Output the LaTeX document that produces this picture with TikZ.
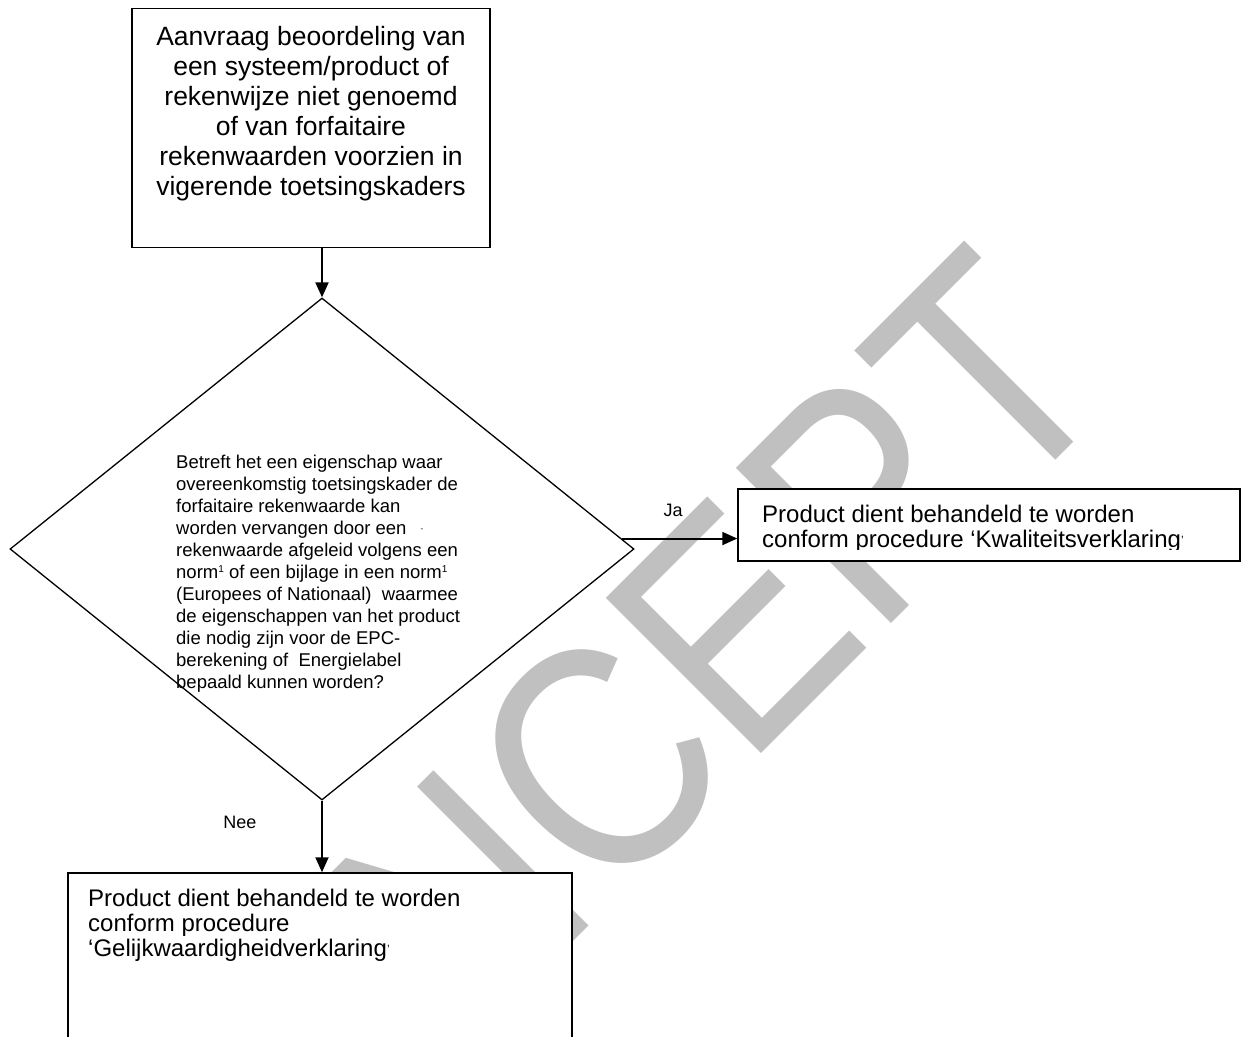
\documentclass[tikz,border=0pt]{standalone}
\usepackage{fontspec}
\setmainfont{Liberation Sans}
\usetikzlibrary{shapes.geometric,arrows.meta}
\definecolor{wmgray}{RGB}{192,192,192}
\begin{document}
\begin{tikzpicture}[x=1pt,y=-1pt,
  box/.style={draw=black,line width=1.5pt,fill=white,rectangle,inner sep=0pt},
  dec/.style={draw=black,line width=1.3pt,fill=white,diamond,inner sep=0pt},
  arr/.style={line width=2pt,-{Triangle[length=15pt,width=13pt]}},
  lab/.style={font=\fontsize{18}{20}\selectfont,inner sep=0pt},
  bigtxt/.style={font=\fontsize{26.5}{30}\selectfont,inner sep=0pt},
  midtxt/.style={font=\fontsize{24}{25}\selectfont,inner sep=0pt,align=left},
  smalltxt/.style={font=\fontsize{18.5}{22}\selectfont,inner sep=0pt,align=left},
]
\useasboundingbox (0,0) rectangle (1249,1036);
\clip (0,0) rectangle (1249,1036);
\fill[white] (0,0) rectangle (1249,1036);
% watermark
\node[rotate=45,yscale=1.16,anchor=base east,text=wmgray,font=\fontsize{275}{275}\selectfont,inner sep=0pt] (wm) at (1124,391) {CONCEPT};
% boxes
\node[box,minimum width=358pt,minimum height=239pt] (top) at (311,128) {};
\node[bigtxt,align=center,anchor=north] (toptxt) at (311,25.7) {Aanvraag beoordeling van\\een systeem/product of\\rekenwijze niet genoemd\\of van forfaitaire\\rekenwaarden voorzien in\\vigerende toetsingskaders};
\node[dec,minimum width=624pt,minimum height=502pt] (dia) at (322,549) {};
\node[smalltxt,anchor=north west] (diatxt) at (176,455) {Betreft het een eigenschap waar\\overeenkomstig toetsingskader de\\forfaitaire rekenwaarde kan\\worden vervangen door een\hspace{14pt}\raisebox{3pt}{\fontsize{8}{8}\selectfont -}\\rekenwaarde afgeleid volgens een\\norm\raisebox{6pt}{\fontsize{10}{10}\selectfont 1} of een bijlage in een norm\raisebox{6pt}{\fontsize{10}{10}\selectfont 1}\\(Europees of Nationaal)\ \ waarmee\\de eigenschappen van het product\\die nodig zijn voor de EPC-\\berekening of\ \ Energielabel\\bepaald kunnen worden?};
\node[box,minimum width=502pt,minimum height=72pt] (rbox) at (989,525) {};
\begin{scope}
\clip (739,489) rectangle (1240,549.5);
\node[midtxt,anchor=north west] (rtxt) at (762,504.5) {Product dient behandeld te worden\\conform procedure ‘Kwaliteitsverklaring\raisebox{3pt}{\fontsize{12}{12}\selectfont ’}};
\end{scope}
\node[box,minimum width=504pt,minimum height=200pt] (bbox) at (320,973) {};
\node[midtxt,anchor=north west] (btxt) at (88,888.5) {Product dient behandeld te worden\\conform procedure\\‘Gelijkwaardigheidverklaring\raisebox{3pt}{\fontsize{12}{12}\selectfont ’}};
% connectors
\draw[arr] (dia.north |- top.south) -- (dia.north);
\draw[arr] (dia.2.3) -- (dia.2.3 -| rbox.west);
\draw[arr] (dia.south) -- (dia.south |- bbox.north);
\node[lab] (ja) at (673,510) {Ja};
\node[lab] (nee) at (240,822) {Nee};
\end{tikzpicture}
\end{document}
